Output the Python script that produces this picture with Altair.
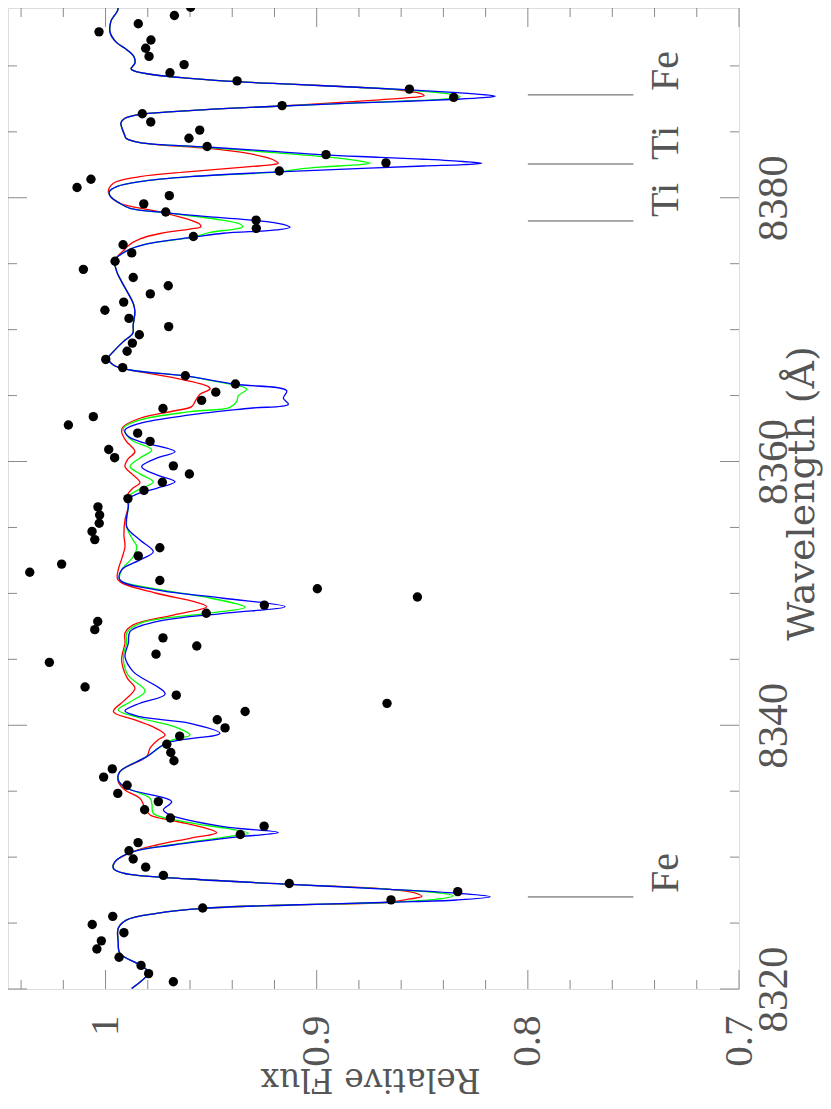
import altair as alt
import pandas as pd

FONT = "Liberation Serif"
TFONT = "DejaVu Serif"

# ---------------- observed spectrum (black dots) ----------------
obs_wl = [8394.45, 8393.82, 8393.20, 8392.58, 8391.96, 8391.34, 8390.72, 8390.10, 8389.48, 8388.86,
          8388.24, 8387.61, 8386.99, 8386.37, 8385.75, 8385.13, 8384.51, 8383.89, 8383.27, 8382.65,
          8382.03, 8381.40, 8380.78, 8380.16, 8379.54, 8378.92, 8378.30, 8377.68, 8377.06, 8376.44,
          8375.82, 8375.19, 8374.57, 8373.95, 8373.33, 8372.71, 8372.09, 8371.47, 8370.85, 8370.23,
          8369.61, 8368.98, 8368.36, 8367.74, 8367.12, 8366.50, 8365.88, 8365.26, 8364.64, 8364.02,
          8363.40, 8362.77, 8362.15, 8361.53, 8360.91, 8360.29, 8359.67, 8359.05, 8358.43, 8357.81,
          8357.19, 8356.56, 8355.94, 8355.32, 8354.70, 8354.08, 8353.46, 8352.84, 8352.22, 8351.60,
          8350.98, 8350.35, 8349.73, 8349.11, 8348.49, 8347.87, 8347.25, 8346.63, 8346.01, 8345.39,
          8344.77, 8342.90, 8342.28, 8341.66, 8341.04, 8340.42, 8339.80, 8339.18, 8338.56,
          8337.93, 8337.31, 8336.69, 8336.07, 8335.45, 8334.83, 8334.21, 8333.59, 8332.97, 8332.35,
          8331.72, 8331.10, 8330.48, 8329.86, 8329.24, 8328.62, 8328.00, 8327.38, 8326.76, 8326.14,
          8325.51, 8324.89, 8324.27, 8323.65, 8323.03, 8322.41, 8321.79, 8321.17, 8320.55]
obs_flux = [0.9597, 0.9674, 0.9845, 1.0031, 0.9785, 0.9810, 0.9794, 0.9628, 0.9695, 0.9377,
            0.8561, 0.8351, 0.9164, 0.9826, 0.9786, 0.9554, 0.9605, 0.9519, 0.8956, 0.8672,
            0.9177, 1.0069, 1.0135, 0.9698, 0.9819, 0.9715, 0.9287, 0.9286, 0.9584, 0.9917,
            0.9876, 0.9955, 1.0105, 0.9869, 0.9703, 0.9788, 0.9914, 1.0003, 0.9889, 0.9701,
            0.9840, 0.9873, 0.9898, 0.9999, 0.9919, 0.9622, 0.9385, 0.9478, 0.9545, 0.9728,
            1.0058, 1.0176, 0.9848, 0.9789, 0.9985, 0.9957, 0.9679, 0.9603, 0.9731, 0.9818,
            0.9894, 1.0036, 1.0028, 1.0030, 1.0064, 1.0051, 0.9743, 0.9845, 1.0208, 1.0359,
            0.9743, 0.8997, 0.8523, 0.9248, 0.9523, 1.0037, 1.0051, 0.9728, 0.9568, 0.9761,
            1.0266, 1.0097, 0.9665, 0.8667, 0.9339, 0.9471, 0.9434, 0.9649, 0.9710,
            0.9691, 0.9676, 0.9968, 1.0009, 0.9898, 0.9942, 0.9750, 0.9815, 0.9693, 0.9249,
            0.9362, 0.9846, 0.9889, 0.9869, 0.9810, 0.9726, 0.9130, 0.8332, 0.8648, 0.9540,
            0.9966, 1.0063, 0.9913, 1.0020, 1.0041, 0.9936, 0.9832, 0.9796, 0.9679]

# ---------------- model 1 (blue) ----------------
blue_wl = [8395.00, 8394.32, 8393.41, 8392.57, 8391.82, 8391.21, 8390.68, 8390.22, 8389.77, 8389.62,
           8389.29, 8389.06, 8388.80, 8388.61, 8388.38, 8388.18, 8387.97, 8387.82, 8387.70, 8387.59,
           8387.47, 8387.32, 8387.19, 8386.96, 8386.76, 8386.53, 8386.33, 8386.03, 8385.70, 8385.27,
           8384.69, 8384.51, 8384.18, 8383.85, 8383.55, 8383.25, 8383.07, 8382.92, 8382.75, 8382.62,
           8382.51, 8382.41, 8382.21, 8381.96, 8381.60, 8381.22, 8380.84, 8380.46, 8380.08, 8379.58,
           8379.20, 8378.87, 8378.55, 8378.28, 8377.98, 8377.76, 8377.56, 8377.31, 8377.01, 8376.55,
           8376.10, 8375.28, 8374.40, 8373.64, 8372.00, 8371.36, 8370.36, 8369.73, 8369.09, 8368.33,
           8367.83, 8367.32, 8366.94, 8366.49, 8365.86, 8365.37, 8364.80, 8364.34, 8364.04, 8363.53,
           8362.90, 8362.39, 8361.89, 8361.51, 8360.75, 8360.25, 8359.61, 8358.98, 8358.47, 8357.97,
           8357.52, 8357.16, 8356.58, 8355.06, 8354.05, 8353.16, 8352.54, 8351.78, 8351.02, 8350.26,
           8349.63, 8348.99, 8348.49, 8347.86, 8347.10, 8346.22, 8345.20, 8344.07, 8342.37, 8341.67,
           8341.09, 8340.65, 8340.15, 8339.39, 8338.64, 8337.62, 8336.48, 8335.85, 8335.22, 8334.21,
           8333.58, 8333.20, 8332.31, 8331.86, 8331.55, 8330.92, 8330.42, 8329.66, 8329.16, 8328.78,
           8328.34, 8327.94, 8327.56, 8327.26, 8327.00, 8326.75, 8326.58, 8326.37, 8326.12, 8325.74,
           8325.24, 8324.61, 8323.59, 8322.71, 8321.82, 8321.27, 8320.04]
blue_flux = [0.9960, 0.9941, 0.9974, 0.9979, 0.9951, 0.9898, 0.9865, 0.9861, 0.9879, 0.9865,
             0.9756, 0.9600, 0.9377, 0.9126, 0.8809, 0.8558, 0.8335, 0.8212, 0.8155, 0.8212,
             0.8335, 0.8572, 0.8809, 0.9164, 0.9444, 0.9680, 0.9837, 0.9908, 0.9927, 0.9922,
             0.9908, 0.9903, 0.9837, 0.9521, 0.9240, 0.8969, 0.8700, 0.8495, 0.8307, 0.8218,
             0.8305, 0.8495, 0.8810, 0.9180, 0.9600, 0.9837, 0.9947, 0.9982, 0.9976, 0.9932,
             0.9884, 0.9718, 0.9505, 0.9287, 0.9159, 0.9126, 0.9189, 0.9442, 0.9584, 0.9789,
             0.9884, 0.9955, 0.9947, 0.9924, 0.9869, 0.9861, 0.9869, 0.9871, 0.9916, 0.9963,
             0.9987, 0.9963, 0.9884, 0.9620, 0.9387, 0.9142, 0.9158, 0.9134, 0.9316, 0.9600,
             0.9837, 0.9908, 0.9892, 0.9837, 0.9671, 0.9758, 0.9829, 0.9758, 0.9671, 0.9758,
             0.9852, 0.9892, 0.9892, 0.9900, 0.9837, 0.9774, 0.9837, 0.9924, 0.9932, 0.9758,
             0.9442, 0.9150, 0.9442, 0.9758, 0.9884, 0.9892, 0.9908, 0.9869, 0.9718, 0.9837,
             0.9908, 0.9837, 0.9600, 0.9458, 0.9710, 0.9805, 0.9932, 0.9940, 0.9900, 0.9687,
             0.9726, 0.9695, 0.9442, 0.9182, 0.9363, 0.9679, 0.9869, 0.9955, 0.9963, 0.9916,
             0.9600, 0.9126, 0.8653, 0.8337, 0.8179, 0.8337, 0.8653, 0.9126, 0.9537, 0.9758,
             0.9900, 0.9940, 0.9940, 0.9932, 0.9837, 0.9797, 0.9876]

# ---------------- model 2 (green) ----------------
green_wl = [8395.00, 8394.32, 8393.41, 8392.57, 8391.82, 8391.21, 8390.68, 8390.22, 8389.77, 8389.62,
            8389.29, 8389.06, 8388.80, 8388.61, 8388.38, 8388.18, 8387.91, 8387.66, 8387.53, 8387.38,
            8387.19, 8386.96, 8386.76, 8386.53, 8386.33, 8386.03, 8385.70, 8385.27, 8384.69, 8384.51,
            8384.18, 8383.85, 8383.51, 8383.12, 8382.83, 8382.62, 8382.49, 8382.34, 8382.16, 8381.96,
            8381.60, 8381.22, 8380.84, 8380.46, 8380.08, 8379.58, 8379.20, 8378.87, 8378.39, 8378.01,
            8377.79, 8377.63, 8377.37, 8377.01, 8376.55, 8376.10, 8375.28, 8374.40, 8373.64, 8372.00,
            8371.36, 8370.36, 8369.73, 8369.09, 8368.33, 8367.83, 8367.32, 8366.94, 8366.49, 8366.05,
            8365.50, 8364.99, 8364.54, 8364.11, 8363.78, 8363.15, 8362.52, 8362.01, 8361.56, 8360.88,
            8360.27, 8359.61, 8359.06, 8358.45, 8357.92, 8357.46, 8357.16, 8356.58, 8355.06, 8354.05,
            8353.54, 8352.78, 8351.78, 8351.02, 8350.41, 8349.65, 8348.95, 8348.49, 8347.73, 8346.98,
            8346.24, 8345.20, 8343.81, 8342.60, 8341.77, 8341.16, 8340.55, 8339.87, 8339.26, 8338.81,
            8337.62, 8336.48, 8335.85, 8335.32, 8334.46, 8333.96, 8333.33, 8332.67, 8332.14, 8331.81,
            8331.57, 8330.92, 8330.42, 8329.66, 8329.16, 8328.78, 8328.34, 8327.94, 8327.56, 8327.28,
            8327.07, 8326.83, 8326.58, 8326.37, 8326.12, 8325.74, 8325.24, 8324.61, 8323.59, 8322.71,
            8321.82, 8321.27, 8320.04]
green_flux = [0.9960, 0.9941, 0.9974, 0.9979, 0.9951, 0.9898, 0.9865, 0.9861, 0.9879, 0.9865,
              0.9756, 0.9600, 0.9377, 0.9126, 0.8809, 0.8582, 0.8392, 0.8321, 0.8359, 0.8510,
              0.8809, 0.9164, 0.9444, 0.9680, 0.9837, 0.9908, 0.9927, 0.9922, 0.9908, 0.9903,
              0.9837, 0.9553, 0.9268, 0.8970, 0.8814, 0.8747, 0.8814, 0.8970, 0.9093, 0.9180,
              0.9600, 0.9837, 0.9947, 0.9982, 0.9976, 0.9932, 0.9884, 0.9718, 0.9482, 0.9363,
              0.9350, 0.9387, 0.9505, 0.9584, 0.9789, 0.9884, 0.9955, 0.9947, 0.9924, 0.9869,
              0.9861, 0.9869, 0.9871, 0.9916, 0.9963, 0.9987, 0.9963, 0.9884, 0.9620, 0.9474,
              0.9331, 0.9371, 0.9379, 0.9411, 0.9600, 0.9837, 0.9916, 0.9900, 0.9870, 0.9781,
              0.9837, 0.9884, 0.9837, 0.9774, 0.9837, 0.9884, 0.9892, 0.9892, 0.9900, 0.9870,
              0.9852, 0.9869, 0.9924, 0.9932, 0.9789, 0.9505, 0.9339, 0.9521, 0.9837, 0.9900,
              0.9900, 0.9916, 0.9894, 0.9813, 0.9884, 0.9940, 0.9837, 0.9671, 0.9600, 0.9695,
              0.9805, 0.9932, 0.9940, 0.9908, 0.9789, 0.9780, 0.9774, 0.9624, 0.9411, 0.9324,
              0.9411, 0.9695, 0.9869, 0.9955, 0.9963, 0.9916, 0.9600, 0.9126, 0.8653, 0.8416,
              0.8353, 0.8416, 0.8653, 0.9126, 0.9537, 0.9758, 0.9900, 0.9940, 0.9940, 0.9932,
              0.9837, 0.9797, 0.9876]

# ---------------- model 3 (red) ----------------
red_wl = [8395.00, 8394.32, 8393.41, 8392.57, 8391.82, 8391.21, 8390.68, 8390.22, 8389.77, 8389.62,
          8389.29, 8389.06, 8388.80, 8388.61, 8388.38, 8388.18, 8387.92, 8387.74, 8387.61, 8387.43,
          8387.23, 8386.96, 8386.76, 8386.53, 8386.33, 8386.03, 8385.70, 8385.27, 8384.69, 8384.51,
          8384.18, 8383.75, 8383.40, 8383.02, 8382.77, 8382.62, 8382.49, 8382.36, 8381.98, 8381.60,
          8381.10, 8380.46, 8380.08, 8379.58, 8378.92, 8378.32, 8377.98, 8377.79, 8377.63, 8377.29,
          8376.88, 8376.35, 8376.10, 8375.28, 8374.40, 8373.64, 8372.00, 8371.36, 8370.36, 8369.73,
          8369.09, 8368.33, 8367.83, 8367.32, 8367.07, 8366.36, 8365.68, 8365.50, 8365.10, 8364.67,
          8364.16, 8363.83, 8363.28, 8362.64, 8362.26, 8361.56, 8360.75, 8360.19, 8359.61, 8359.06,
          8358.41, 8357.92, 8357.39, 8357.16, 8356.58, 8355.57, 8354.43, 8353.54, 8352.69, 8351.78,
          8351.02, 8350.01, 8349.35, 8348.99, 8348.36, 8347.61, 8347.00, 8346.24, 8344.95, 8343.59,
          8342.81, 8341.92, 8341.03, 8340.40, 8339.80, 8339.26, 8338.89, 8338.28, 8337.62, 8336.48,
          8335.72, 8335.09, 8334.46, 8333.73, 8333.20, 8332.74, 8332.21, 8331.86, 8331.43, 8330.92,
          8330.42, 8329.66, 8329.16, 8328.78, 8328.34, 8327.94, 8327.56, 8327.28, 8327.02, 8326.83,
          8326.58, 8326.37, 8326.12, 8325.74, 8325.24, 8324.61, 8323.59, 8322.71, 8321.82, 8321.27,
          8320.04]
red_flux = [0.9960, 0.9941, 0.9974, 0.9979, 0.9951, 0.9898, 0.9865, 0.9861, 0.9879, 0.9865,
            0.9756, 0.9600, 0.9377, 0.9126, 0.8809, 0.8615, 0.8510, 0.8491, 0.8548, 0.8700,
            0.8889, 0.9164, 0.9444, 0.9680, 0.9837, 0.9908, 0.9927, 0.9922, 0.9908, 0.9903,
            0.9837, 0.9519, 0.9339, 0.9230, 0.9193, 0.9182, 0.9221, 0.9316, 0.9600, 0.9837,
            0.9963, 0.9987, 0.9976, 0.9932, 0.9742, 0.9600, 0.9553, 0.9549, 0.9600, 0.9742,
            0.9837, 0.9894, 0.9908, 0.9955, 0.9947, 0.9924, 0.9869, 0.9861, 0.9869, 0.9871,
            0.9916, 0.9963, 0.9987, 0.9963, 0.9921, 0.9679, 0.9513, 0.9505, 0.9553, 0.9572,
            0.9592, 0.9679, 0.9837, 0.9916, 0.9924, 0.9903, 0.9861, 0.9894, 0.9908, 0.9875,
            0.9837, 0.9875, 0.9898, 0.9892, 0.9892, 0.9908, 0.9913, 0.9908, 0.9922, 0.9940,
            0.9941, 0.9758, 0.9576, 0.9521, 0.9679, 0.9869, 0.9908, 0.9908, 0.9924, 0.9898,
            0.9861, 0.9908, 0.9963, 0.9861, 0.9766, 0.9718, 0.9752, 0.9789, 0.9805, 0.9932,
            0.9940, 0.9908, 0.9837, 0.9813, 0.9789, 0.9671, 0.9529, 0.9474, 0.9600, 0.9758,
            0.9869, 0.9955, 0.9963, 0.9916, 0.9600, 0.9126, 0.8653, 0.8534, 0.8502, 0.8558,
            0.8653, 0.9126, 0.9537, 0.9758, 0.9900, 0.9940, 0.9940, 0.9932, 0.9837, 0.9797,
            0.9876]

# ---------------- line identifications ----------------
line_wl = [8326.98, 8378.24, 8382.56, 8387.80]
line_ion = ["Fe", "Ti", "Ti", "Fe"]

# ---------------- tick values ----------------
flux_major = [0.7, 0.8, 0.9, 1.0]
flux_minor = [0.72, 0.74, 0.76, 0.78, 0.82, 0.84, 0.86, 0.88, 0.92, 0.94, 0.96, 0.98, 1.02, 1.04]
wl_major = [8320, 8340, 8360, 8380]
wl_minor = [8325, 8330, 8335, 8345, 8350, 8355, 8365, 8370, 8375, 8385, 8390]

assert len(obs_wl) == len(obs_flux)
assert len(blue_wl) == len(blue_flux)
assert len(green_wl) == len(green_flux)
assert len(red_wl) == len(red_flux)

W, H = 731, 981
TXT = "#555555"
TICK = "#8a8a8a"

xs = alt.Scale(domain=[0.7, 1.0462], reverse=True, nice=False, zero=False)
ys = alt.Scale(domain=[8320, 8394.39], nice=False, zero=False)

xax = alt.Axis(values=flux_major, orient="bottom", title="Relative Flux",
               labelAngle=270, labelAlign="right", labelBaseline="middle",
               labelPadding=26, ticks=False, tickSize=0, domain=False, grid=False,
               labelFont=FONT, labelFontSize=41, labelColor=TXT,
               labelExpr="datum.value == 1 ? '1' : format(datum.value, '.1f')",
               labelFlush=False, labelOverlap=False,
               titleFont=TFONT, titleFontSize=33, titleFontWeight="normal", titleColor=TXT,
               titleAngle=180, titleAlign="center", titleBaseline="alphabetic",
               titleX=362, titleY=79)
yax = alt.Axis(values=wl_major, orient="right", title="Wavelength (Å)",
               labelAngle=270, labelAlign="center", labelBaseline="top",
               labelPadding=13, ticks=False, tickSize=0, domain=False, grid=False,
               labelFont=FONT, labelFontSize=43, labelColor=TXT, format="d",
               labelFlush=False, labelOverlap=False,
               titleFont=TFONT, titleFontSize=38, titleFontWeight="normal", titleColor=TXT,
               titleAngle=270, titleAlign="center", titleBaseline="top",
               titleX=44, titleY=485)


def X(field):
    return alt.X(field, type="quantitative", scale=xs, axis=xax)


def Y(field):
    return alt.Y(field, type="quantitative", scale=ys, axis=yax)


obs_df = pd.DataFrame({"wl": obs_wl, "flux": obs_flux})


def model_layer(wl, fl, color):
    df = pd.DataFrame({"wl": wl, "flux": fl})
    return alt.Chart(df).mark_line(color=color, strokeWidth=1.3, interpolate="catmull-rom",
                                   clip=True).encode(x=X("flux"), y=Y("wl"), order=alt.Order("wl:Q"))


red_layer = model_layer(red_wl, red_flux, "#ff0000")
green_layer = model_layer(green_wl, green_flux, "#00ff00")
blue_layer = model_layer(blue_wl, blue_flux, "#0000ff")

dots = alt.Chart(obs_df).mark_circle(size=88, color="black", opacity=1, clip=True).encode(
    x=X("flux"), y=Y("wl"))

id_df = pd.DataFrame({"wl": line_wl, "ion": line_ion})
id_rules = alt.Chart(id_df).mark_rule(color="#555555", strokeWidth=1).encode(
    y=Y("wl"),
    x=alt.X(datum=0.80, type="quantitative", scale=xs, axis=xax),
    x2=alt.X2(datum=0.75))
id_text = alt.Chart(id_df).mark_text(angle=270, align="left", baseline="alphabetic",
                                     font=FONT, fontSize=40, color=TXT, dx=4).encode(
    y=Y("wl"),
    x=alt.X(datum=0.729, type="quantitative", scale=xs, axis=xax),
    text="ion:N")


def xticks(vals, y0, y1):
    return alt.Chart(pd.DataFrame({"v": vals})).mark_rule(color=TICK, strokeWidth=1).encode(
        x=X("v"), y=alt.value(y0), y2=alt.value(y1))


def yticks(vals, x0, x1):
    return alt.Chart(pd.DataFrame({"v": vals})).mark_rule(color=TICK, strokeWidth=1).encode(
        y=Y("v"), x=alt.value(x0), x2=alt.value(x1))


tick_layers = [
    xticks(flux_major, H, H - 19), xticks(flux_minor, H, H - 9),
    xticks(flux_major, 0, 19), xticks(flux_minor, 0, 9),
    yticks(wl_major, 0, 19), yticks(wl_minor, 0, 9),
    yticks(wl_major, W, W - 19), yticks(wl_minor, W, W - 9),
]

chart = alt.layer(
    *tick_layers, id_rules, id_text, red_layer, green_layer, blue_layer, dots
).properties(
    width=W, height=H,
    padding={"left": 0, "top": 0, "right": 84, "bottom": 110},
    autosize=alt.AutoSizeParams(type="none"),
).configure_view(
    stroke="#555555", strokeWidth=1
).configure(background="white")

chart.save("out.html", embed_options={"renderer": "svg", "actions": False})
